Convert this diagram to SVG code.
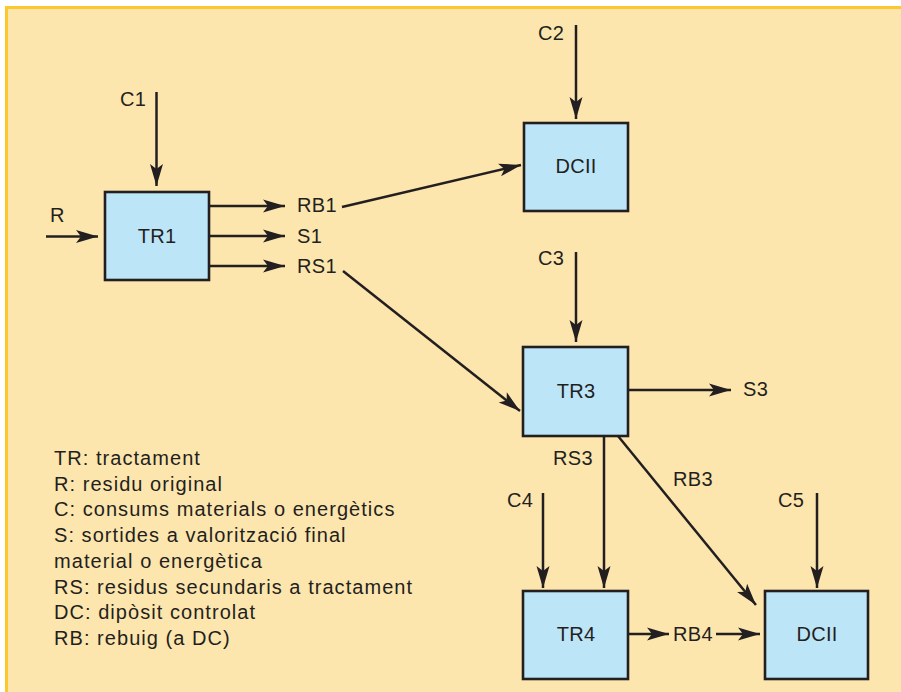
<svg xmlns="http://www.w3.org/2000/svg" width="901" height="692" viewBox="0 0 901 692">
<style>
.bg{fill:#FDE6AE;stroke:#FDC82F;stroke-width:3}
.box{fill:#BDE5F8;stroke:#231F20;stroke-width:2.6}
.ln{stroke:#231F20;stroke-width:2.5;fill:none}
.arr{marker-end:url(#ah)}
text{font-family:"Liberation Sans",Arial,sans-serif;fill:#231F20}
.lb{font-size:20px;letter-spacing:0.3px}
.lg{font-size:20px;letter-spacing:1.05px}
.c{text-anchor:middle}
</style>
<defs>
<marker id="ah" markerUnits="userSpaceOnUse" markerWidth="24" markerHeight="14" refX="22" refY="6.5" orient="auto" overflow="visible">
<path d="M0,0 L22,6.5 L0,13 L5,6.5 z" fill="#231F20"/>
</marker>
</defs>
<rect class="bg" x="6.5" y="7.5" width="1000" height="800"/>

<g id="connectors">
<line class="ln arr" x1="156.5" y1="92" x2="156.5" y2="186"/>
<line class="ln arr" x1="46" y1="236.5" x2="98" y2="236.5"/>
<line class="ln arr" x1="209" y1="206" x2="285" y2="206"/>
<line class="ln arr" x1="209" y1="236" x2="285" y2="236"/>
<line class="ln arr" x1="209" y1="266" x2="285" y2="266"/>
<line class="ln arr" x1="342" y1="207" x2="521" y2="165"/>
<line class="ln arr" x1="576" y1="25" x2="576" y2="119"/>
<line class="ln arr" x1="576" y1="252" x2="576" y2="342"/>
<line class="ln arr" x1="343" y1="271" x2="520" y2="411"/>
<line class="ln arr" x1="628" y1="390" x2="731" y2="390"/>
<line class="ln arr" x1="604" y1="436" x2="604" y2="588"/>
<line class="ln arr" x1="618" y1="436" x2="756" y2="605"/>
<line class="ln arr" x1="543" y1="493" x2="543" y2="588"/>
<line class="ln arr" x1="817" y1="493" x2="817" y2="588"/>
<line class="ln arr" x1="628" y1="634" x2="669" y2="634"/>
<line class="ln arr" x1="716" y1="634" x2="760" y2="634"/>
</g>

<g id="TR1">
<rect class="box" x="105" y="192" width="104" height="88"/>
<text class="lb c" x="157" y="243">TR1</text>
</g>
<g id="DCII-1">
<rect class="box" x="524" y="123" width="104" height="88"/>
<text class="lb c" x="576" y="173">DCII</text>
</g>
<g id="TR3">
<rect class="box" x="523" y="347" width="105" height="89"/>
<text class="lb c" x="576" y="398">TR3</text>
</g>
<g id="TR4">
<rect class="box" x="523" y="591" width="105" height="88"/>
<text class="lb c" x="576" y="641">TR4</text>
</g>
<g id="DCII-2">
<rect class="box" x="765" y="591" width="103" height="88"/>
<text class="lb c" x="817" y="641">DCII</text>
</g>

<g id="labels">
<text class="lb" x="120" y="106">C1</text>
<text class="lb" x="50" y="222">R</text>
<text class="lb" x="297" y="212">RB1</text>
<text class="lb" x="297" y="243">S1</text>
<text class="lb" x="297" y="273">RS1</text>
<text class="lb" x="538" y="40">C2</text>
<text class="lb" x="538" y="265">C3</text>
<text class="lb" x="743" y="396">S3</text>
<text class="lb" x="553" y="465">RS3</text>
<text class="lb" x="673" y="486">RB3</text>
<text class="lb" x="507" y="507">C4</text>
<text class="lb" x="778" y="507">C5</text>
<text class="lb" x="673" y="641">RB4</text>
</g>

<g id="legend">
<text class="lg" x="54" y="465">TR: tractament</text>
<text class="lg" x="54" y="490.7">R: residu original</text>
<text class="lg" x="54" y="516.4">C: consums materials o energètics</text>
<text class="lg" x="54" y="542.1">S: sortides a valorització final</text>
<text class="lg" x="54" y="567.8">material o energètica</text>
<text class="lg" x="54" y="593.5">RS: residus secundaris a tractament</text>
<text class="lg" x="54" y="619.2">DC: dipòsit controlat</text>
<text class="lg" x="54" y="644.9">RB: rebuig (a DC)</text>
</g>
</svg>
